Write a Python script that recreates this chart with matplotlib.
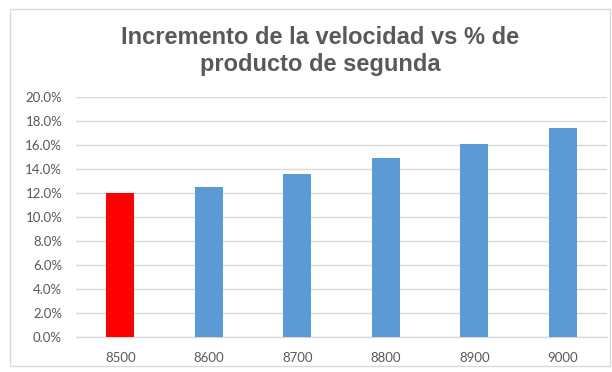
import matplotlib.pyplot as plt
from matplotlib.patches import Rectangle
from matplotlib.ticker import PercentFormatter

# datos
velocidades = ["8500", "8600", "8700", "8800", "8900", "9000"]
porcentaje_segunda = [12.0, 12.5, 13.6, 14.9, 16.1, 17.4]
colores = ["#ff0000", "#5b9bd5", "#5b9bd5", "#5b9bd5", "#5b9bd5", "#5b9bd5"]

W, H = 612, 372
fig = plt.figure(figsize=(W / 100, H / 100), dpi=100)
ax = fig.add_axes([76 / W, 1 - 337 / H, (607 - 76) / W, (337 - 97) / H])

x = range(len(velocidades))
ax.bar(x, porcentaje_segunda, width=0.315, color=colores, zorder=3)

ax.set_xlim(-0.5, len(velocidades) - 0.5)
ax.set_ylim(0, 20)
ax.set_yticks(range(0, 21, 2))
ax.yaxis.set_major_formatter(PercentFormatter(decimals=1))
ax.set_xticks(list(x))
ax.set_xticklabels(velocidades)

ax.grid(axis='y', color='#d9d9d9', linewidth=1, zorder=0)
for s in ['top', 'right', 'left']:
    ax.spines[s].set_visible(False)
ax.spines['bottom'].set_color('#d9d9d9')
ax.spines['bottom'].set_linewidth(1)
ax.tick_params(length=0, labelsize=9.5, labelcolor='#595959')
for lbl in ax.get_xticklabels() + ax.get_yticklabels():
    lbl.set_family(['Lato', 'DejaVu Sans'])
ax.tick_params(axis='y', pad=10)
ax.tick_params(axis='x', pad=11)

# titulo en dos lineas
titulo = ["Incremento de la velocidad vs % de", "producto de segunda"]
for i, linea in enumerate(titulo):
    fig.text(0.523, 1 - (43.5 + 28 * i) / H, linea, ha='center', va='baseline',
             fontsize=17, fontweight='bold', color='#595959',
             family=['Liberation Sans', 'DejaVu Sans'])

# borde del area del grafico
fig.patches.append(Rectangle((10 / W, 1 - 366 / H), (610 - 10) / W, (366 - 9) / H,
                             transform=fig.transFigure, fill=False,
                             edgecolor='#d9d9d9', linewidth=1))

plt.savefig('out.png', dpi=100)
plt.close()
